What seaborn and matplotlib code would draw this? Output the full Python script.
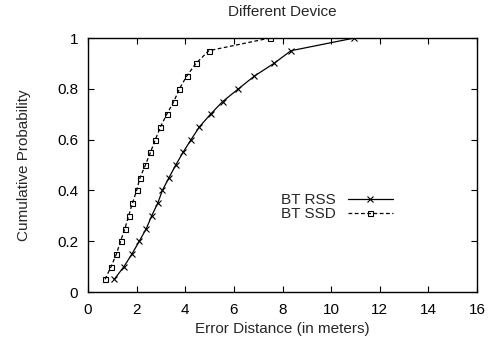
import matplotlib
matplotlib.use("Agg")
import matplotlib.pyplot as plt
import seaborn as sns
import pandas as pd

# Data
prob = [0.05, 0.10, 0.15, 0.20, 0.25, 0.30, 0.35, 0.40, 0.45, 0.50,
        0.55, 0.60, 0.65, 0.70, 0.75, 0.80, 0.85, 0.90, 0.95, 1.00]
rss_err = [1.08, 1.48, 1.81, 2.11, 2.40, 2.62, 2.87, 3.06, 3.33, 3.61,
           3.91, 4.24, 4.58, 5.04, 5.54, 6.19, 6.84, 7.65, 8.35, 10.96]
ssd_err = [0.70, 0.95, 1.17, 1.34, 1.52, 1.67, 1.83, 2.00, 2.14, 2.36,
           2.57, 2.77, 2.98, 3.24, 3.53, 3.76, 4.06, 4.44, 4.97, 7.49]
series_names = ["BT RSS", "BT SSD"]
x_ticks = [0, 2, 4, 6, 8, 10, 12, 14, 16]
y_ticks = [0, 0.2, 0.4, 0.6, 0.8, 1.0]
y_tick_labels = ["0", "0.2", "0.4", "0.6", "0.8", "1"]

FS = 11

sns.set_theme(style="white")
plt.rcParams["font.family"] = ["Liberation Sans", "DejaVu Sans"]
plt.rcParams["font.size"] = FS

df_rss = pd.DataFrame({"err": rss_err, "prob": prob})
df_ssd = pd.DataFrame({"err": ssd_err, "prob": prob})

fig = plt.figure(figsize=(4.92, 3.49), dpi=100)
ax = fig.add_axes([88 / 492, 57 / 349, (477 - 88) / 492, (292 - 38) / 349])

sns.lineplot(data=df_rss, x="err", y="prob", sort=False, ax=ax, color="black",
             linewidth=0.9, marker="x", markersize=4.2, markeredgewidth=0.8,
             markeredgecolor="black", label=series_names[0])
sns.lineplot(data=df_ssd, x="err", y="prob", sort=False, ax=ax, color="black",
             linewidth=0.9, linestyle=(0, (3, 2)), marker="s", markersize=3.6,
             markerfacecolor="none", markeredgecolor="black", markeredgewidth=0.8,
             label=series_names[1])

ax.set_xlim(0, 16)
ax.set_ylim(0, 1)
ax.set_xticks(x_ticks)
ax.set_xticklabels([str(t) for t in x_ticks])
ax.set_yticks(y_ticks)
ax.set_yticklabels(y_tick_labels)
ax.tick_params(axis="both", which="both", direction="in", length=4, width=0.8,
               top=True, right=True, bottom=True, left=True, labelsize=FS,
               colors="black")
ax.tick_params(axis="x", pad=8)
ax.tick_params(axis="y", pad=7)
for s in ax.spines.values():
    s.set_color("black")
    s.set_linewidth(1.0)

ax.set_xlabel("Error Distance (in meters)", fontsize=FS, labelpad=3.5)
ax.set_ylabel("Cumulative Probability", fontsize=FS, labelpad=19)
ax.set_title("Different Device", fontsize=FS, pad=15.5)

leg = ax.legend(loc="center right", bbox_to_anchor=(0.784, 0.335), frameon=False,
                markerfirst=False, handlelength=2.95, handletextpad=0.8,
                labelspacing=0.0, fontsize=FS, borderaxespad=0, borderpad=0)

fig.savefig("out.png", dpi=100)
